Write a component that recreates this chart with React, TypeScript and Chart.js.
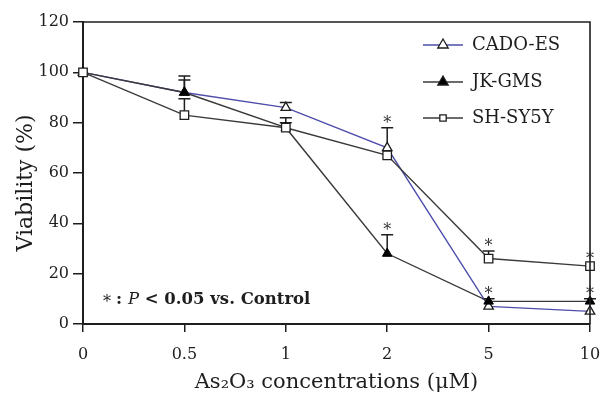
import React, { useEffect, useRef } from 'react';
import { Chart, registerables } from 'chart.js';

Chart.register(...registerables);

// ---- data ----
const categories = ['0', '0.5', '1', '2', '5', '10'];
const seriesNames = ['CADO-ES', 'JK-GMS', 'SH-SY5Y'];
const cadoEs = [100, 92, 86, 70, 7, 5];
const jkGms = [100, 92, 78, 28, 9, 9];
const shSy5y = [100, 83, 78, 67, 26, 23];
const cadoErr = [0, 5, 2, 8, 0, 0];
const jkErr = [0, 6.5, 4, 7.5, 1, 1];
const shErr = [0, 6.5, 2, 0, 3, 0];
const cadoSig = [false, false, false, true, false, false];
const jkSig = [false, false, false, true, true, true];
const shSig = [false, false, false, false, true, true];
const yMin = 0;
const yMax = 120;
const yStep = 20;
const xTitle = 'As\u2082O\u2083 concentrations (\u03bcM)';
const yTitle = 'Viability (%)';
const noteParts = ['* ', ': ', 'P', ' < 0.05 vs. Control'];

export default function App() {
  const ref = useRef<HTMLCanvasElement>(null);

  useEffect(() => {
    const canvas = ref.current;
    if (!canvas) return;
    const serif = '"DejaVu Serif", serif';
    const ink = '#1e1e1e';
    const line = '#3a3a3a';
    const blue = '#4d4dab';

    const sets = [
      { vals: cadoEs, errs: cadoErr, sig: cadoSig },
      { vals: jkGms, errs: jkErr, sig: jkSig },
      { vals: shSy5y, errs: shErr, sig: shSig },
    ];

    const drawMarker = (ctx: CanvasRenderingContext2D, kind: string, x: number, y: number, r: number, fill: string) => {
      ctx.beginPath();
      if (kind === 'triangle') {
        let rad = 0;
        ctx.moveTo(x + Math.sin(rad) * r, y - Math.cos(rad) * r);
        rad += (2 * Math.PI) / 3;
        ctx.lineTo(x + Math.sin(rad) * r, y - Math.cos(rad) * r);
        rad += (2 * Math.PI) / 3;
        ctx.lineTo(x + Math.sin(rad) * r, y - Math.cos(rad) * r);
        ctx.closePath();
      } else {
        const s = r * Math.SQRT1_2;
        ctx.rect(x - s, y - s, 2 * s, 2 * s);
      }
      ctx.fillStyle = fill;
      ctx.fill();
      ctx.strokeStyle = ink;
      ctx.lineWidth = 1.3;
      ctx.stroke();
    };

    const errPlugin = {
      id: 'errbars',
      beforeDatasetsDraw(chart: any) {
        const { ctx, scales } = chart;
        const x = scales.x;
        const y = scales.y;
        ctx.save();
        ctx.strokeStyle = ink;
        ctx.lineWidth = 1.5;
        sets.forEach((s) => {
          s.vals.forEach((v, i) => {
            if (!s.errs[i]) return;
            const px = x.getPixelForValue(i);
            const y0 = y.getPixelForValue(v);
            const y1 = y.getPixelForValue(v + s.errs[i]);
            ctx.beginPath();
            ctx.moveTo(px, y0);
            ctx.lineTo(px, y1);
            ctx.moveTo(px - 6, y1);
            ctx.lineTo(px + 6, y1);
            ctx.stroke();
          });
        });
        ctx.restore();
      },
      afterDatasetsDraw(chart: any) {
        const { ctx, scales } = chart;
        const x = scales.x;
        const y = scales.y;
        ctx.save();
        ctx.fillStyle = '#333';
        ctx.font = `16px ${serif}`;
        ctx.textAlign = 'center';
        ctx.textBaseline = 'alphabetic';
        sets.forEach((s) => {
          s.vals.forEach((v, i) => {
            if (!s.sig[i]) return;
            const px = x.getPixelForValue(i);
            const top = Math.min(y.getPixelForValue(v + s.errs[i]) - 10, y.getPixelForValue(v) - 12);
            ctx.fillText('*', px, top + 10);
          });
        });
        ctx.restore();
      },
      afterDraw(chart: any) {
        const { ctx, chartArea } = chart;
        ctx.save();
        // frame top and right
        ctx.strokeStyle = ink;
        ctx.lineWidth = 1.6;
        ctx.beginPath();
        ctx.moveTo(chartArea.left, chartArea.top);
        ctx.lineTo(chartArea.right, chartArea.top);
        ctx.lineTo(chartArea.right, chartArea.bottom);
        ctx.stroke();

        // y title
        ctx.save();
        ctx.translate(26, 183);
        ctx.rotate(-Math.PI / 2);
        ctx.fillStyle = ink;
        ctx.font = `22px ${serif}`;
        ctx.textAlign = 'center';
        ctx.textBaseline = 'middle';
        ctx.fillText(yTitle, 0, 0);
        ctx.restore();

        // legend
        const rows = [45, 82, 118];
        const kinds = ['triangle', 'triangle', 'rect'];
        const fills = ['#ffffff', '#000000', '#ffffff'];
        const colors = [blue, line, line];
        seriesNames.forEach((name, k) => {
          const yy = rows[k];
          ctx.strokeStyle = colors[k];
          ctx.lineWidth = 1.3;
          ctx.beginPath();
          ctx.moveTo(423, yy);
          ctx.lineTo(463, yy);
          ctx.stroke();
          drawMarker(ctx, kinds[k], 443, yy, k === 2 ? 4.5 : 6, fills[k]);
          ctx.fillStyle = ink;
          ctx.font = `18px ${serif}`;
          ctx.textAlign = 'left';
          ctx.textBaseline = 'middle';
          ctx.fillText(name, 472, yy);
        });

        // significance note
        let nx = 103;
        const ny = 300;
        ctx.textAlign = 'left';
        ctx.textBaseline = 'middle';
        ctx.fillStyle = ink;
        const fonts = [`16px ${serif}`, `bold 16.5px ${serif}`, `italic 16.5px ${serif}`, `bold 16.5px ${serif}`];
        noteParts.forEach((p, k) => {
          ctx.font = fonts[k];
          ctx.fillText(p, nx, k === 0 ? ny + 3 : ny);
          nx += ctx.measureText(p).width;
        });
        ctx.restore();
      },
    };

    const chart = new Chart(canvas, {
      type: 'line',
      data: {
        labels: categories,
        datasets: [
          {
            label: seriesNames[0],
            data: cadoEs,
            borderColor: blue,
            borderWidth: 1.4,
            pointStyle: 'triangle',
            pointRadius: 5.5,
            pointBackgroundColor: '#ffffff',
            pointBorderColor: ink,
            pointBorderWidth: 1.3,
            tension: 0,
            order: 2,
          },
          {
            label: seriesNames[1],
            data: jkGms,
            borderColor: line,
            borderWidth: 1.4,
            pointStyle: 'triangle',
            pointRadius: 5.5,
            pointBackgroundColor: '#000000',
            pointBorderColor: '#000000',
            pointBorderWidth: 1,
            tension: 0,
            order: 1,
          },
          {
            label: seriesNames[2],
            data: shSy5y,
            borderColor: line,
            borderWidth: 1.4,
            pointStyle: 'rect',
            pointRadius: 6,
            pointBackgroundColor: '#ffffff',
            pointBorderColor: ink,
            pointBorderWidth: 1.3,
            tension: 0,
            order: 0,
          },
        ],
      },
      options: {
        responsive: false,
        animation: false,
        layout: { padding: { top: 22, right: 11, left: 0, bottom: 0 } },
        plugins: {
          legend: { display: false },
          tooltip: { enabled: false },
          title: { display: false },
        },
        scales: {
          x: {
            type: 'category',
            offset: false,
            grid: {
              drawOnChartArea: false,
              drawTicks: true,
              tickLength: 8,
              color: ink,
              lineWidth: 1.5,
            },
            border: { display: true, color: ink, width: 2 },
            ticks: {
              color: ink,
              font: { family: serif, size: 16 },
              padding: 13,
              maxRotation: 0,
              autoSkip: false,
            },
            title: {
              display: true,
              text: xTitle,
              color: ink,
              font: { family: serif, size: 21 },
              padding: { top: 0, bottom: 2 },
            },
            afterFit(scale: any) {
              scale.height = 73;
              scale.paddingLeft = 0;
              scale.paddingRight = 0;
            },
          },
          y: {
            min: yMin,
            max: yMax,
            grid: {
              drawOnChartArea: false,
              drawTicks: true,
              tickLength: 10,
              color: ink,
              lineWidth: 1.5,
            },
            border: { display: true, color: ink, width: 2 },
            ticks: {
              stepSize: yStep,
              color: ink,
              font: { family: serif, size: 16 },
              padding: 4,
            },
            afterFit(scale: any) {
              scale.width = 83;
              scale.paddingTop = 0;
              scale.paddingBottom = 0;
            },
          },
        },
      },
      plugins: [errPlugin],
    } as any);

    return () => {
      chart.destroy();
    };
  }, []);

  return (
    <div style={{ position: 'fixed', left: 0, top: 0, width: 601, height: 397, background: '#fff' }}>
      <canvas ref={ref} width={601} height={397} style={{ display: 'block' }} />
    </div>
  );
}
